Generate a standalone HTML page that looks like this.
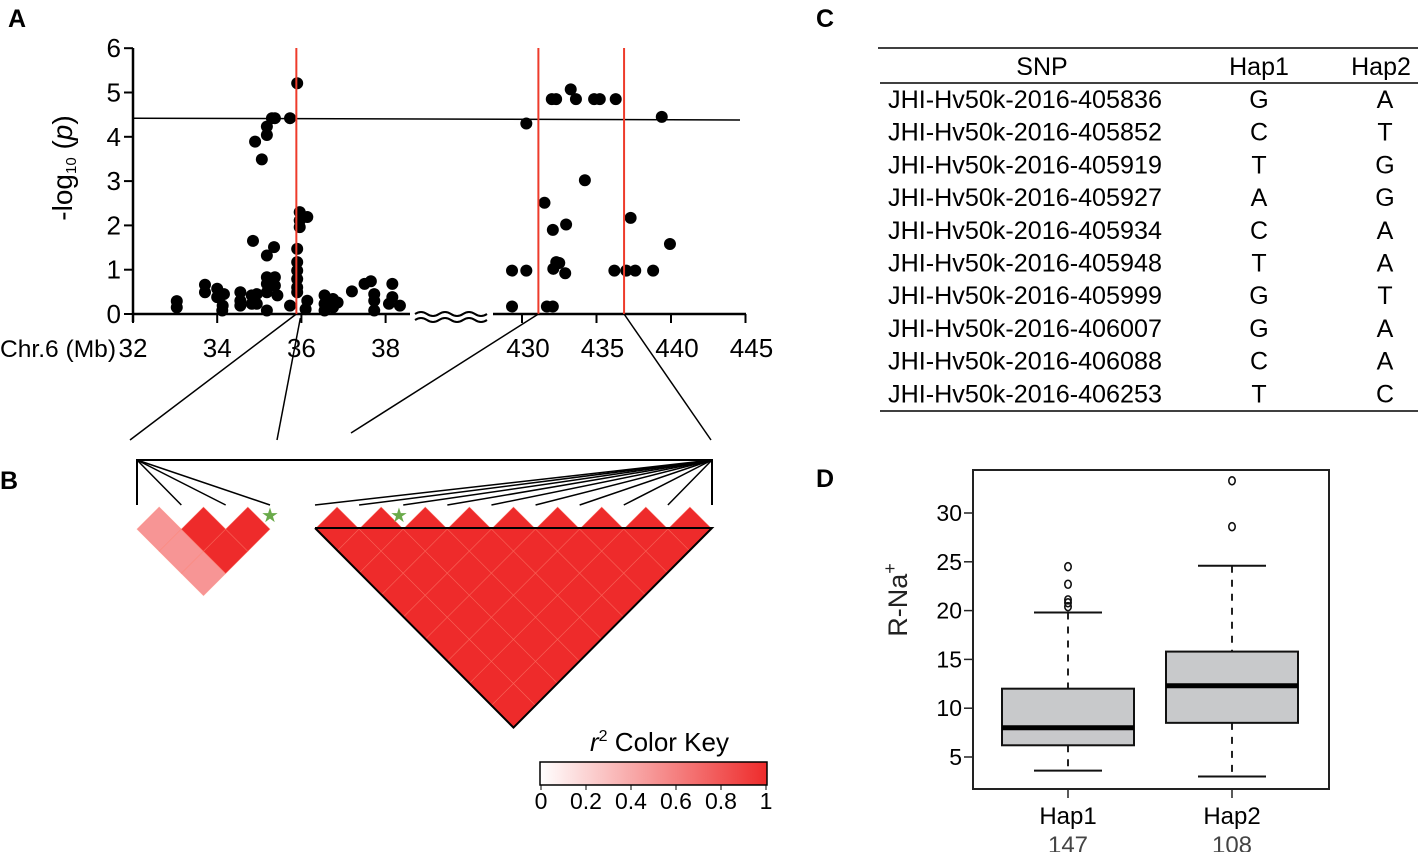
<!DOCTYPE html>
<html><head><meta charset="utf-8"><style>
html,body{margin:0;padding:0;background:#fff;}
svg{display:block;font-family:"Liberation Sans",Arial,sans-serif;}
</style></head><body>
<svg id="fig" width="1418" height="852" viewBox="0 0 1418 852" xmlns="http://www.w3.org/2000/svg">
<defs>
<linearGradient id="keyGrad" x1="0" x2="1" y1="0" y2="0">
<stop offset="0" stop-color="#ffffff"/><stop offset="1" stop-color="#ee2b2b"/>
</linearGradient>
</defs>
<g font-weight="bold" font-size="25">
<text x="8" y="27">A</text>
<text x="0" y="489">B</text>
<text x="816" y="27">C</text>
<text x="816" y="487">D</text>
</g>
<g id="panelA"></g>
<g id="panelB"></g>
<g id="panelC"></g>
<g id="panelD"></g>
</svg>
<script>
const NS='http://www.w3.org/2000/svg';
// Panel A data
const leftMb=[33.04,33.04,33.71,33.71,34.0,34.0,34.12,34.13,34.16,34.55,34.55,34.55,34.82,34.82,34.94,34.94,34.9,35.06,35.18,35.18,35.3,35.37,34.85,35.18,35.35,35.18,35.18,35.18,35.18,35.37,35.37,35.43,35.73,35.9,35.73,35.9,35.9,35.9,35.9,35.9,35.9,35.96,35.96,35.96,36.14,36.14,36.1,36.55,36.55,36.55,36.75,36.75,36.86,37.2,37.5,37.65,37.73,37.73,37.73,38.16,38.16,38.08,38.34];
const leftP=[0.29,0.15,0.66,0.49,0.57,0.38,0.08,0.19,0.45,0.49,0.30,0.19,0.42,0.23,0.45,0.23,3.89,3.49,4.23,4.04,4.42,4.42,1.65,1.32,1.51,0.83,0.68,0.49,0.08,0.83,0.64,0.42,4.42,5.21,0.19,1.47,1.17,0.98,0.79,0.6,0.49,2.30,2.11,1.96,2.19,0.30,0.11,0.42,0.23,0.08,0.34,0.15,0.26,0.51,0.68,0.74,0.45,0.30,0.08,0.68,0.38,0.23,0.19];
const rightMb=[430.29,429.33,430.29,429.33,431.67,432.07,432.0,432.29,433.27,433.62,434.84,435.22,436.29,439.38,434.22,431.51,432.07,432.96,432.1,432.3,432.5,432.9,436.2,437.0,437.6,438.8,437.29,439.93];
const rightP=[4.30,0.98,0.98,0.17,0.17,0.17,4.85,4.85,5.07,4.85,4.85,4.85,4.85,4.45,3.02,2.51,1.90,2.02,1.02,1.17,1.15,0.92,0.98,0.98,0.98,0.98,2.17,1.58];
const yTicks=[0,1,2,3,4,5,6];
const leftTicks=[32,34,36,38];
const rightTicks=[430,435,440,445];
const threshold=[4.42,4.38];
const redLinesLeft=[35.88];
const redLinesRight=[431.1,436.85];
// Panel D data
const groups=['Hap1','Hap2'];
const counts=['147','108'];
const q1=[6.2,8.5],med=[8.0,12.3],q3=[12.0,15.8],lowW=[3.6,3.0],upW=[19.8,24.6];
const outliers=[[24.5,22.7,21.1,20.8,20.4],[28.6,33.3]];
const dTicks=[5,10,15,20,25,30];
// Panel C data
const snps=['JHI-Hv50k-2016-405836','JHI-Hv50k-2016-405852','JHI-Hv50k-2016-405919','JHI-Hv50k-2016-405927','JHI-Hv50k-2016-405934','JHI-Hv50k-2016-405948','JHI-Hv50k-2016-405999','JHI-Hv50k-2016-406007','JHI-Hv50k-2016-406088','JHI-Hv50k-2016-406253'];
const hap1=['G','C','T','A','C','T','G','G','C','T'];
const hap2=['A','T','G','G','A','A','T','A','A','C'];
// LD data
const ldLeftR2=[[0,0.5,0.5,0.5],[0,0,1,1],[0,0,0,1]];
const ldRightN=10;
const keyLabels=['0','0.2','0.4','0.6','0.8','1'];

function mk(parent,tag,attrs,text){const e=document.createElementNS(NS,tag);for(const k in attrs)e.setAttribute(k,attrs[k]);if(text!==undefined)e.textContent=text;parent.appendChild(e);return e;}

// ---- Panel A
const A=document.getElementById('panelA');
const yA=v=>314-v*44.3;
const xL=m=>133+(m-32)*42.1;
const xR=m=>522+(m-430)*14.9;
let e;
e=mk(A,'line',{x1:133,y1:48,x2:133,y2:322,stroke:'#000','stroke-width':2.5});

yTicks.forEach(t=>{mk(A,'line',{x1:124,x2:133,y1:yA(t),y2:yA(t),stroke:'#000','stroke-width':2});
 e=mk(A,'text',{x:121,y:yA(t)+9,'font-size':26,'text-anchor':'end'},String(t));
 });
e=mk(A,'text',{transform:'translate(72,168) rotate(-90)','font-size':28,'text-anchor':'middle'});

e.innerHTML='-log<tspan font-size="15" dy="4">10</tspan><tspan dy="-4"> (</tspan><tspan font-style="italic">p</tspan>)';
mk(A,'line',{x1:133,y1:314,x2:410,y2:314,stroke:'#000','stroke-width':2.5});
mk(A,'line',{x1:493,y1:314,x2:746,y2:314,stroke:'#000','stroke-width':2.5});
e=mk(A,'path',{d:'M415 314 q6 -4 12 0 t12 0 t12 0 t12 0 t12 0 t12 0 M415 320 q6 -4 12 0 t12 0 t12 0 t12 0 t12 0 t12 0',fill:'none',stroke:'#000','stroke-width':2});

leftTicks.forEach(t=>{mk(A,'line',{x1:xL(t),x2:xL(t),y1:314,y2:323,stroke:'#000','stroke-width':2});
 e=mk(A,'text',{x:xL(t),y:357,'font-size':26,'text-anchor':'middle'},String(t));
 });
rightTicks.forEach(t=>{mk(A,'line',{x1:xR(t),x2:xR(t),y1:314,y2:323,stroke:'#000','stroke-width':2});
 e=mk(A,'text',{x:xR(t)+6,y:357,'font-size':26,'text-anchor':'middle'},String(t));
 });
e=mk(A,'text',{x:0,y:357,'font-size':24,textLength:116,lengthAdjust:'spacingAndGlyphs'},'Chr.6 (Mb)');

e=mk(A,'line',{x1:133,y1:yA(threshold[0]),x2:740,y2:yA(threshold[1]),stroke:'#000','stroke-width':1.5});

leftMb.forEach((m,i)=>{e=mk(A,'circle',{cx:xL(m),cy:yA(leftP[i]),r:6,fill:'#000'});
 });
rightMb.forEach((m,i)=>{e=mk(A,'circle',{cx:xR(m),cy:yA(rightP[i]),r:6,fill:'#000'});
 });
redLinesLeft.forEach(m=>{e=mk(A,'line',{x1:xL(m),x2:xL(m),y1:48,y2:314,stroke:'#ee3b2b','stroke-width':2});
 });
redLinesRight.forEach(m=>{e=mk(A,'line',{x1:xR(m),x2:xR(m),y1:48,y2:314,stroke:'#ee3b2b','stroke-width':2});
 });
[[xL(redLinesLeft[0]),314,130,440],[xL(redLinesLeft[0])+4,318,277,440],[xR(redLinesRight[0]),314,351,433],[xR(redLinesRight[1]),314,711,440]].forEach(c=>{
 e=mk(A,'line',{x1:c[0],y1:c[1],x2:c[2],y2:c[3],stroke:'#000','stroke-width':1.5});
 });

// ---- Panel B
const B=document.getElementById('panelB');
const col=r=>{const c=Math.round(255-(255-0xee)*r),g=Math.round(255-(255-0x2b)*r);return `rgb(${c},${g},${g})`;};
mk(B,'line',{x1:136,y1:460,x2:713,y2:460,stroke:'#000','stroke-width':2});
mk(B,'line',{x1:137,y1:460,x2:137,y2:505,stroke:'#000','stroke-width':2});
mk(B,'line',{x1:712,y1:460,x2:712,y2:505,stroke:'#000','stroke-width':2});
function ldBlock(x0,w,n,r2f){
 for(let i=0;i<n;i++)for(let j=i+1;j<n;j++){
  const cx=x0+(i+j)*w/2, cy=507+(j-i)*w/2, h=w/2;
  e=mk(B,'polygon',{points:`${cx},${cy-h} ${cx+h},${cy} ${cx},${cy+h} ${cx-h},${cy}`,fill:col(r2f(i,j)),stroke:'rgba(255,120,100,0.35)','stroke-width':0.8});
  }
}
const wL=133/3;
ldBlock(137,wL,4,(i,j)=>ldLeftR2[i][j]);
for(let i=1;i<4;i++)mk(B,'line',{x1:137,y1:460,x2:137+i*wL,y2:505,stroke:'#000','stroke-width':1.5});
const wR=397/(ldRightN-1);
ldBlock(315,wR,ldRightN,()=>1);
for(let i=0;i<ldRightN-1;i++)mk(B,'line',{x1:712,y1:460,x2:315+i*wR,y2:505,stroke:'#000','stroke-width':1.5});
e=mk(B,'polyline',{points:`315,528 712,528 ${315+397/2},${507+(ldRightN-1)*wR/2+wR/2} 315,528`,fill:'none',stroke:'#000','stroke-width':2});

[[270,515],[399,515]].forEach(p=>{e=mk(B,'text',{x:p[0],y:p[1]+7,'font-size':20,'text-anchor':'middle',fill:'#6aaa4a'},'★');
 });
e=mk(B,'text',{x:590,y:751,'font-size':26});

e.innerHTML='<tspan font-style="italic">r</tspan><tspan font-size="16" dy="-10">2</tspan><tspan dy="10"> Color Key</tspan>';
e=mk(B,'rect',{x:540,y:762,width:227,height:23,fill:'url(#keyGrad)',stroke:'#000','stroke-width':1.5});

keyLabels.forEach((l,i)=>{const x=541+i*225/5;mk(B,'line',{x1:x,x2:x,y1:785,y2:790,stroke:'#000'});
 e=mk(B,'text',{x:x,y:809,'font-size':23,'text-anchor':'middle'},l);
 });

// ---- Panel C
const C=document.getElementById('panelC');
mk(C,'line',{x1:878,y1:48,x2:1418,y2:48,stroke:'#000','stroke-width':1.5});
mk(C,'line',{x1:880,y1:83,x2:1418,y2:83,stroke:'#000','stroke-width':1.5});
mk(C,'line',{x1:880,y1:411,x2:1418,y2:411,stroke:'#000','stroke-width':1.5});
[['SNP',1042],['Hap1',1259],['Hap2',1381]].forEach(h=>{e=mk(C,'text',{x:h[1],y:75,'font-size':25,'text-anchor':'middle'},h[0]);
 });
snps.forEach((s,i)=>{const y=108+i*32.7;
 e=mk(C,'text',{x:888,y:y,'font-size':25,textLength:274,lengthAdjust:'spacingAndGlyphs'},s);
 
 e=mk(C,'text',{x:1259,y:y,'font-size':25,'text-anchor':'middle'},hap1[i]);
 
 e=mk(C,'text',{x:1385,y:y,'font-size':25,'text-anchor':'middle'},hap2[i]);
 });

// ---- Panel D
const D=document.getElementById('panelD');
const yD=v=>757-(v-5)*9.76;
const xD=[1068,1232];
e=mk(D,'rect',{x:973,y:470,width:356,height:319,fill:'none',stroke:'#222','stroke-width':2});

dTicks.forEach(t=>{mk(D,'line',{x1:964,x2:973,y1:yD(t),y2:yD(t),stroke:'#222','stroke-width':1.5});
 e=mk(D,'text',{x:962,y:yD(t)+8,'font-size':23,'text-anchor':'end'},String(t));
 });
e=mk(D,'text',{transform:'translate(907,600) rotate(-90)','font-size':27,'text-anchor':'middle',fill:'#222'});

e.innerHTML='R-Na<tspan font-size="18" dy="-11">+</tspan>';
groups.forEach((g,i)=>{const x=xD[i];
 mk(D,'line',{x1:x,x2:x,y1:yD(upW[i]),y2:yD(q3[i]),stroke:'#222','stroke-width':2,'stroke-dasharray':'7,7'});
 mk(D,'line',{x1:x,x2:x,y1:yD(q1[i]),y2:yD(lowW[i]),stroke:'#222','stroke-width':2,'stroke-dasharray':'7,7'});
 mk(D,'line',{x1:x-34,x2:x+34,y1:yD(upW[i]),y2:yD(upW[i]),stroke:'#111','stroke-width':2});
 mk(D,'line',{x1:x-34,x2:x+34,y1:yD(lowW[i]),y2:yD(lowW[i]),stroke:'#111','stroke-width':2});
 e=mk(D,'rect',{x:x-66,y:yD(q3[i]),width:132,height:yD(q1[i])-yD(q3[i]),fill:'#c8c9cb',stroke:'#111','stroke-width':2});
 
 e=mk(D,'line',{x1:x-66,x2:x+66,y1:yD(med[i]),y2:yD(med[i]),stroke:'#000','stroke-width':5});
 
 outliers[i].forEach(o=>{e=mk(D,'ellipse',{cx:x,cy:yD(o),rx:3.2,ry:4,fill:'none',stroke:'#111','stroke-width':1.6});
  });
 mk(D,'line',{x1:x,x2:x,y1:789,y2:798,stroke:'#222','stroke-width':1.5});
 e=mk(D,'text',{x:x,y:824,'font-size':24,'text-anchor':'middle'},g);
 
 e=mk(D,'text',{x:x,y:853,'font-size':24,'text-anchor':'middle',fill:'#444'},counts[i]);
 });
</script>
</body></html>
